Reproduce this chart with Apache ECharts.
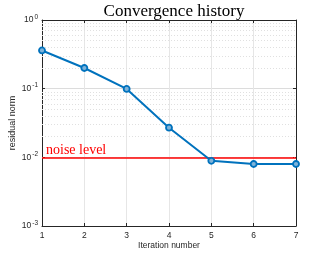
<!DOCTYPE html>
<html><head><meta charset="utf-8">
<script src="https://cdn.jsdelivr.net/npm/echarts@6/dist/echarts.min.js"></script>
<style>html,body{margin:0;padding:0;background:#fff}#c{width:327px;height:254px}</style>
</head><body><div id="c"></div>
<script>
const iterations = [1, 2, 3, 4, 5, 6, 7];
const residuals = [0.36, 0.20, 0.099, 0.027, 0.0089, 0.0080, 0.0080];
const noiseLevel = 0.01;
const noiseLabel = 'noise level';
const titleText = 'Convergence history';
const xName = 'Iteration number';
const yName = 'residual norm';
const yMin = 0.001, yMax = 1;

const minorLines = [];
for (let e = -3; e < 0; e++) {
  for (let m = 2; m <= 9; m++) minorLines.push({ yAxis: m * Math.pow(10, e) });
}
const axisColor = '#262626';
const chart = echarts.init(document.getElementById('c'), null, { renderer: 'canvas' });
const yLabel = {
  color: axisColor,
  fontFamily: 'Liberation Sans',
  formatter: v => '{b|10}{s|' + Math.round(Math.log10(v)) + '}',
  rich: {
    b: { fontSize: 8.5, fontFamily: 'Liberation Sans', color: axisColor },
    s: { fontSize: 6.5, fontFamily: 'Liberation Sans', color: axisColor, verticalAlign: 'top', padding: [0, 0, 6, 1] }
  },
  margin: 4
};
chart.setOption({
  animation: false,
  title: {
    text: titleText, left: 169, top: -2, textAlign: 'center',
    textStyle: { fontFamily: 'Liberation Serif', fontSize: 17, fontWeight: 'normal', color: '#000' }
  },
  grid: { left: 42, right: 31, top: 20, bottom: 28, outerBoundsMode: 'none', containLabel: false },
  xAxis: [{
    type: 'value', min: 1, max: 7, interval: 1,
    name: xName, nameLocation: 'middle', nameGap: 15, nameMoveOverlap: false,
    nameTextStyle: { fontFamily: 'Liberation Sans', fontSize: 8.5, color: axisColor },
    axisLine: { show: true, lineStyle: { color: axisColor, width: 1 } },
    axisTick: { show: true, inside: true, length: 3, lineStyle: { color: axisColor } },
    axisLabel: { color: axisColor, fontFamily: 'Liberation Sans', fontSize: 8.5, margin: 5 },
    splitLine: { show: true, lineStyle: { color: '#e6e6e6', width: 1 } }
  }, {
    type: 'value', min: 1, max: 7, interval: 1, position: 'top',
    axisLine: { show: true, lineStyle: { color: axisColor, width: 1 } },
    axisTick: { show: true, inside: true, length: 3, lineStyle: { color: axisColor } },
    axisLabel: { show: false }, splitLine: { show: false }
  }],
  yAxis: [{
    type: 'log', logBase: 10, min: yMin, max: yMax,
    name: yName, nameLocation: 'middle', nameGap: 25, nameRotate: 90, nameMoveOverlap: false,
    nameTextStyle: { fontFamily: 'Liberation Sans', fontSize: 9, color: axisColor },
    axisLine: { show: true, lineStyle: { color: axisColor, width: 1 } },
    axisTick: { show: true, inside: true, length: 3, lineStyle: { color: axisColor } },
    axisLabel: yLabel,
    splitLine: { show: true, lineStyle: { color: '#dcdcdc', width: 1 } }
  }, {
    type: 'log', logBase: 10, min: yMin, max: yMax, position: 'right',
    axisLine: { show: true, lineStyle: { color: axisColor, width: 1 } },
    axisTick: { show: true, inside: true, length: 3, lineStyle: { color: axisColor } },
    axisLabel: { show: false }, splitLine: { show: false }
  }],
  series: [{
    type: 'line', xAxisIndex: 0, yAxisIndex: 0, silent: true,
    data: [],
    markLine: {
      silent: true, symbol: 'none', animation: false,
      label: { show: false },
      lineStyle: { color: '#e0e0e0', type: [1, 2], width: 1 },
      data: minorLines
    }
  }, {
    type: 'line', xAxisIndex: 0, yAxisIndex: 0, silent: true, z: 8,
    data: [],
    markLine: {
      silent: true, symbol: 'none', animation: false, z: 8,
      lineStyle: { color: '#ff0000', type: 'solid', width: 1.5, opacity: 1 },
      label: {
        show: true, position: 'insideStartTop', formatter: noiseLabel,
        color: '#ff0000', fontFamily: 'Liberation Serif', fontSize: 14, distance: [4, 0]
      },
      data: [{ yAxis: noiseLevel, lineStyle: { color: '#ff0000' } }]
    }
  }, {
    type: 'line', xAxisIndex: 0, yAxisIndex: 0,
    data: iterations.map((x, i) => [x, residuals[i]]),
    lineStyle: { color: '#0072BD', width: 2 },
    itemStyle: { color: '#7fb3d9', borderColor: '#0072BD', borderWidth: 1.8 },
    symbol: 'circle', symbolSize: 6, showSymbol: true,
    z: 10
  }]
});
</script></body></html>
